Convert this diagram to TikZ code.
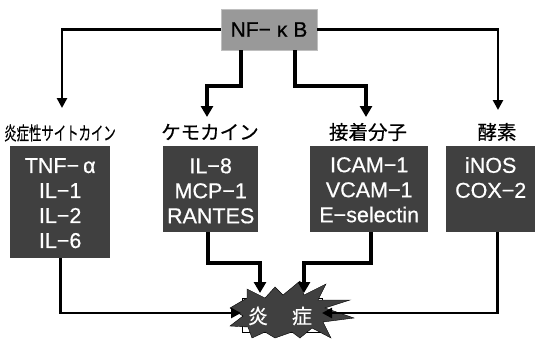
\documentclass[tikz,border=0pt]{standalone}
\usepackage{fontspec}
\setmainfont{Liberation Sans}
\newfontfamily\medsans{Liberation Sans}[FakeBold=0.6]
\newfontfamily\jp{Noto Sans CJK JP}[FakeBold=0.5]
\usetikzlibrary{arrows.meta}
\definecolor{boxdark}{HTML}{404040}
\definecolor{nfgray}{HTML}{999999}
\tikzset{
  catbox/.style={fill=boxdark, draw=none, inner sep=0pt, anchor=north west},
  boxtext/.style={text=white, align=center, anchor=north, inner sep=0pt,
    font=\medsans\fontsize{21.5}{25}\selectfont},
  cat/.style={font=\jp\fontsize{19.5}{22}\selectfont, inner sep=0pt},
  thinarrow/.style={line width=2.7pt, -{Triangle[width=10pt,length=10pt]}},
  thickarrow/.style={line width=4pt, -{Triangle[width=12pt,length=11pt]}},
}
\begin{document}
\begin{tikzpicture}[x=1pt,y=-1pt]
\useasboundingbox (0,0) rectangle (543,338);
% NF-kB
\node[fill=nfgray, draw=black!25, line width=0.6pt, minimum width=96pt, minimum height=41pt,
  inner sep=0pt, font=\medsans\fontsize{21}{22}\selectfont] (nf) at (269,29.5) {NF−\hspace{6pt}κ\hspace{6pt}B};
% category labels
\node[cat] (l1) at (60,133) {\fontsize{18.5}{22}\selectfont\scalebox{0.67}[1]{炎症性サイトカイン}};
\node[cat] (l2) at (210,132) {ケモカイン};
\node[cat] (l3) at (368,132) {接着分子};
\node[cat] (l4) at (497,132) {酵素};
% boxes
\node[catbox, minimum width=100pt, minimum height=112pt] (b1) at (10,146) {};
\node[catbox, minimum width=95pt, minimum height=86pt] (b2) at (163,146) {};
\node[catbox, minimum width=118pt, minimum height=86pt] (b3) at (310,146) {};
\node[catbox, minimum width=89pt, minimum height=86pt] (b4) at (446,146) {};
\node[boxtext] (t1) at ([yshift=-12pt]b1.north) {TNF−\hspace{4pt}α\\IL−1\\IL−2\\IL−6};
\node[boxtext] (t2) at ([yshift=-12pt]b2.north) {IL−8\\MCP−1\\RANTES};
\node[boxtext] (t3) at ([yshift=-11pt]b3.north) {ICAM−1\\VCAM−1\\E−selectin};
\node[boxtext] (t4) at ([yshift=-11pt]b4.north) {iNOS\\COX−2};
% inflammation
\node[draw=black, line width=0.6pt, fill=white, minimum width=80pt, minimum height=34pt,
  inner sep=0pt] (rect) at (282,315) {};
\fill[boxdark, draw=black, line width=0.4pt]
  (230,308) -- (247,298) -- (247,289) -- (265,298) -- (275,287) -- (283,295)
  -- (300,281) -- (304,295) -- (326,284) -- (318,300) -- (350,300) -- (325,308)
  -- (354,318) -- (323,322) -- (331,338) -- (312,328) -- (300,338) -- (292,332)
  -- (275,338) -- (265,332) -- (252,338) -- (248,327) -- (230,326) -- (243,316) -- cycle;
\node[text=white, font=\jp\fontsize{20}{22}\selectfont, inner sep=0pt] (inf) at (280,316)
  {炎\hspace{24pt}症};
% tip coordinates
\coordinate (a1) at (62,108);
\coordinate (a2) at (207,117);
\coordinate (a3) at (366,117);
\coordinate (a4) at (498,110);
\coordinate (c1) at (241,313);
\coordinate (c2) at (260,293);
\coordinate (c3) at (304,293);
\coordinate (c4) at (322,313);
% top connectors
\draw[thinarrow] (nf.west) -| (a1);
\draw[thickarrow] ([xshift=-28pt]nf.south) |- (207,86) -- (a2);
\draw[thickarrow] ([xshift=26pt]nf.south) |- (366,86) -- (a3);
\draw[thinarrow] (nf.east) -| (a4);
% bottom connectors
\draw[thinarrow] (b1.south) |- (c1);
\draw[thickarrow] ([xshift=-2.5pt]b2.south) |- (260,263) -- (c2);
\draw[thickarrow] ([xshift=2pt]b3.south) |- (304,263) -- (c3);
\draw[thinarrow] ([xshift=6.5pt]b4.south) |- (c4);
\end{tikzpicture}
\end{document}
